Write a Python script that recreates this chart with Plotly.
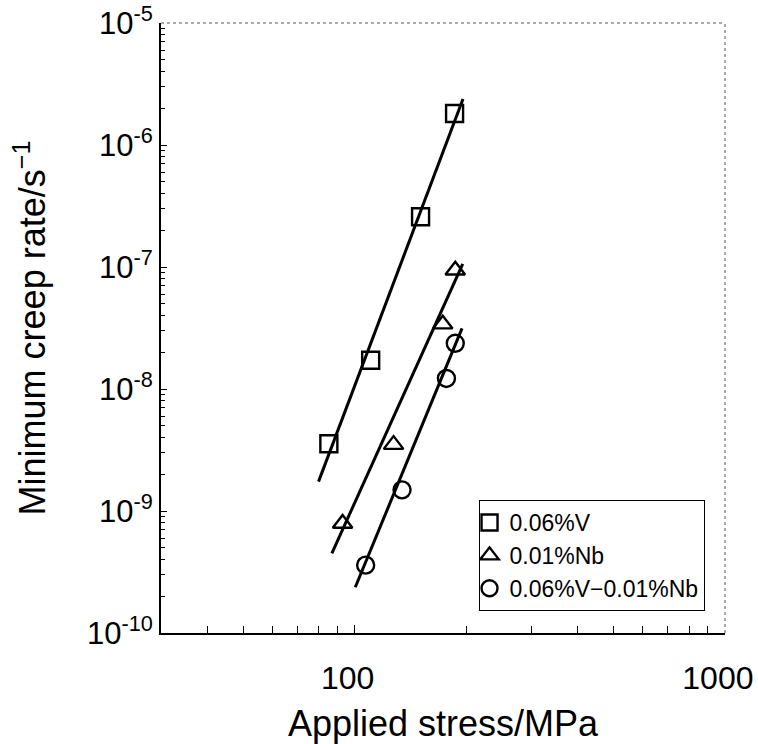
import plotly.graph_objects as go

# Minimum creep rate vs applied stress for three steels
stress_v = [85.2, 110.5, 150.7, 186.2]
rate_v = [3.56e-9, 1.72e-8, 2.58e-7, 1.81e-6]

stress_nb = [92.8, 127.4, 173.0, 187.0]
rate_nb = [7.9e-10, 3.5e-9, 3.4e-8, 9.4e-8]

stress_vnb = [107.1, 134.3, 177.0, 187.0]
rate_vnb = [3.6e-10, 1.49e-9, 1.22e-8, 2.37e-8]

# Power-law fit lines (end points)
fit_v_x = [79.9, 196.2]
fit_v_y = [1.74e-9, 2.38e-6]
fit_nb_x = [86.8, 195.9]
fit_nb_y = [4.5e-10, 1.06e-7]
fit_vnb_x = [100.4, 195.0]
fit_vnb_y = [2.37e-10, 3.14e-8]

labels = ["0.06%V", "0.01%Nb", "0.06%V\u22120.01%Nb"]
symbols = ["square-open", "triangle-up-open", "circle-open"]

y_tickvals = [1e-10, 1e-9, 1e-8, 1e-7, 1e-6, 1e-5]
y_ticktext = ["10<sup>-10</sup>", "10<sup>-9</sup>", "10<sup>-8</sup>",
              "10<sup>-7</sup>", "10<sup>-6</sup>", "10<sup>-5</sup>"]
x_tickvals = [100, 1000]
x_ticktext = ["100", "1000"]
x_minor = [40, 50, 60, 70, 80, 90, 200, 300, 400, 500, 600, 700, 800, 900]

FONT = "Liberation Sans, Arial, sans-serif"

fig = go.Figure()

for fx, fy in [(fit_v_x, fit_v_y), (fit_nb_x, fit_nb_y), (fit_vnb_x, fit_vnb_y)]:
    fig.add_trace(go.Scatter(x=fx, y=fy, mode="lines",
                             line=dict(color="black", width=3),
                             showlegend=False, hoverinfo="skip"))

for sx, sy, name, sym in [(stress_v, rate_v, labels[0], symbols[0]),
                          (stress_nb, rate_nb, labels[1], symbols[1]),
                          (stress_vnb, rate_vnb, labels[2], symbols[2])]:
    fig.add_trace(go.Scatter(x=sx, y=sy, mode="markers", name=name,
                             marker=dict(symbol=sym, size=17, color="black",
                                         line=dict(width=2.4, color="black"))))

fig.update_xaxes(type="log", range=[1.4771, 3.0003], automargin=False,
                 tickmode="array", tickvals=x_tickvals, ticktext=x_ticktext,
                 ticks="inside", ticklen=8, tickwidth=1.3, tickcolor="black",
                 minor=dict(tickvals=x_minor, ticks="inside", ticklen=7,
                            tickwidth=1.2, tickcolor="black", showgrid=False),
                 showline=True, linecolor="black", linewidth=1.8,
                 showgrid=False, zeroline=False,
                 ticklabelstandoff=16, ticklabelshift=-7,
                 tickfont=dict(family=FONT, size=32, color="black"),
                 title=dict(text="Applied stress/MPa", standoff=18,
                            font=dict(family=FONT, size=36, color="black")))

fig.update_yaxes(type="log", range=[-10, -5], automargin=False,
                 tickmode="array", tickvals=y_tickvals, ticktext=y_ticktext,
                 ticks="inside", ticklen=6, tickwidth=1.3, tickcolor="black",
                 minor=dict(ticks="inside", ticklen=4, tickwidth=1,
                            tickcolor="black", showgrid=False, dtick="D1"),
                 showline=True, linecolor="black", linewidth=1.8,
                 showgrid=False, zeroline=False, ticklabelstandoff=0,
                 tickfont=dict(family=FONT, size=31, color="black"),
                 title=dict(text="Minimum creep rate/s<sup>\u22121</sup>", standoff=30,
                            font=dict(family=FONT, size=36, color="black")))

# thin dotted frame on top and right
fig.add_shape(type="line", xref="paper", yref="paper", x0=0, x1=1, y0=1, y1=1,
              line=dict(color="#555555", width=1, dash="dot"))
fig.add_shape(type="line", xref="paper", yref="paper", x0=1, x1=1, y0=0, y1=1,
              line=dict(color="#555555", width=1, dash="dot"))

fig.update_layout(
    width=758, height=744,
    margin=dict(l=161, r=33, t=23, b=111),
    paper_bgcolor="white", plot_bgcolor="white",
    legend=dict(x=0.563, y=0.218, xanchor="left", yanchor="top",
                bgcolor="white", bordercolor="black", borderwidth=1,
                font=dict(family=FONT, size=23, color="black"),
                itemwidth=30, indentation=-10),
)

fig.write_html("out.html")
